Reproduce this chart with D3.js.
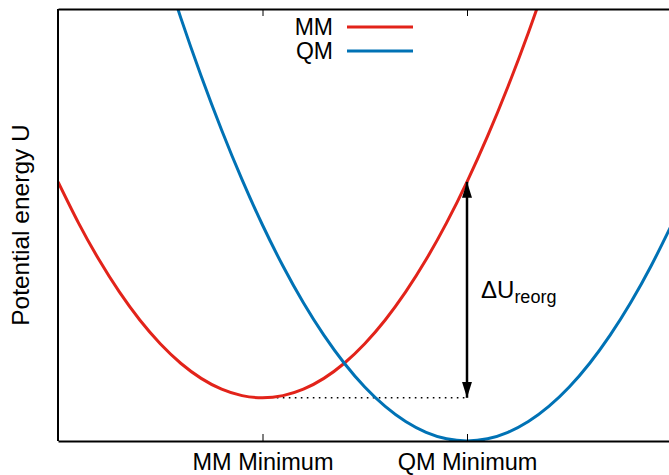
<!DOCTYPE html>
<html><head><meta charset="utf-8">
<script src="https://cdn.jsdelivr.net/npm/d3@7"></script>
<style>body{margin:0;background:#fff;} text{font-family:"Liberation Sans",Arial,sans-serif;}</style>
</head><body>
<svg id="c" width="669" height="475"></svg>
<script>
// Reaction coordinate sample points and energies
const mmX = [-1.0,-0.9,-0.8,-0.7,-0.6,-0.5,-0.4,-0.3,-0.2,-0.1,0.0,0.1,0.2,0.3,0.4,0.5,0.6,0.7,0.8,0.9,1.0,1.1,1.2,1.3,1.4];
const mmU = [1.2,1.01,0.84,0.69,0.56,0.45,0.36,0.29,0.24,0.21,0.2,0.21,0.24,0.29,0.36,0.45,0.56,0.69,0.84,1.01,1.2,1.41,1.64,1.89,2.16];
const qmX = [-0.5,-0.4,-0.3,-0.2,-0.1,0.0,0.1,0.2,0.3,0.4,0.5,0.6,0.7,0.8,0.9,1.0,1.1,1.2,1.3,1.4,1.5,1.6,1.7,1.8,1.9,2.0];
const qmU = [2.25,1.96,1.69,1.44,1.21,1.0,0.81,0.64,0.49,0.36,0.25,0.16,0.09,0.04,0.01,0.0,0.01,0.04,0.09,0.16,0.25,0.36,0.49,0.64,0.81,1.0];
const tickVals = [0, 1];
const tickLabels = ["MM Minimum", "QM Minimum"];
const seriesNames = ["MM", "QM"];
const seriesColors = ["#e2231a", "#0072b5"];
const xDomain = [-1, 2];
const yDomain = [0, 2];
const arrowX = 1, arrowFrom = 0.2, arrowTo = 1.2;

const svg = d3.select("#c");
const L = 58, R = 671.5, T = 9, B = 441;
const x = d3.scaleLinear().domain(xDomain).range([L, R]);
const y = d3.scaleLinear().domain(yDomain).range([B, T]);

svg.append("clipPath").attr("id","clip").append("rect")
  .attr("x", L).attr("y", T).attr("width", R-L).attr("height", B-T);

const line = d3.line().x(d=>x(d[0])).y(d=>y(d[1])).curve(d3.curveNatural);
const plot = svg.append("g").attr("clip-path","url(#clip)");

// dotted reference line
plot.append("line")
  .attr("x1", x(0.07)).attr("x2", x(arrowX)).attr("y1", y(arrowFrom)).attr("y2", y(arrowFrom))
  .attr("stroke","#000").attr("stroke-width",1.6).attr("stroke-dasharray","1.6,4.4");

plot.append("path").datum(mmX.map((v,i)=>[v,mmU[i]]))
  .attr("d", line).attr("fill","none").attr("stroke", seriesColors[0]).attr("stroke-width",3);
plot.append("path").datum(qmX.map((v,i)=>[v,qmU[i]]))
  .attr("d", line).attr("fill","none").attr("stroke", seriesColors[1]).attr("stroke-width",3);

// arrow
const defs = svg.append("defs");
defs.append("marker").attr("id","ah").attr("viewBox","0 0 16 10").attr("refX",16).attr("refY",5)
  .attr("markerWidth",16).attr("markerHeight",10).attr("markerUnits","userSpaceOnUse").attr("orient","auto-start-reverse")
  .append("path").attr("d","M0,0 L16,5 L0,10 Z").attr("fill","#000");
svg.append("line")
  .attr("x1", x(arrowX)).attr("x2", x(arrowX)).attr("y1", y(arrowFrom)).attr("y2", y(arrowTo))
  .attr("stroke","#000").attr("stroke-width",2.5)
  .attr("marker-start","url(#ah)").attr("marker-end","url(#ah)");

const lab = svg.append("text").attr("x", 481).attr("y", 298).attr("font-size",24).attr("fill","#000");
lab.append("tspan").text("\u0394U");
lab.append("tspan").attr("font-size",18).attr("dy",5).text("reorg");

// axes
const xb = d3.axisBottom(x).tickValues(tickVals).tickFormat((d,i)=>tickLabels[i]).tickSizeInner(-7).tickSizeOuter(0).tickPadding(12);
const gb = svg.append("g").attr("transform",`translate(0,${B})`).call(xb);
gb.select(".domain").attr("stroke-width",2);
gb.selectAll("text").attr("font-size",23.5).attr("font-family","'Liberation Sans',Arial,sans-serif").attr("fill","#000");
const xt = d3.axisTop(x).tickValues(tickVals).tickFormat("").tickSizeInner(-7).tickSizeOuter(0);
const gt = svg.append("g").attr("transform",`translate(0,${T})`).call(xt);
gt.select(".domain").attr("stroke-width",2);
svg.append("line").attr("x1",L).attr("x2",L).attr("y1",T).attr("y2",B).attr("stroke","#000").attr("stroke-width",2);

// y label
svg.append("text").attr("transform",`translate(29,${(T+B)/2}) rotate(-90)`)
  .attr("text-anchor","middle").attr("font-size",24.5).text("Potential energy U");

// legend
seriesNames.forEach((n,i)=>{
  const yy = 27 + i*24;
  svg.append("text").attr("x",333).attr("y",yy).attr("dy","0.36em").attr("text-anchor","end").attr("font-size",23).text(n);
  svg.append("line").attr("x1",347).attr("x2",413).attr("y1",yy).attr("y2",yy).attr("stroke",seriesColors[i]).attr("stroke-width",3);
});
</script>
</body></html>
